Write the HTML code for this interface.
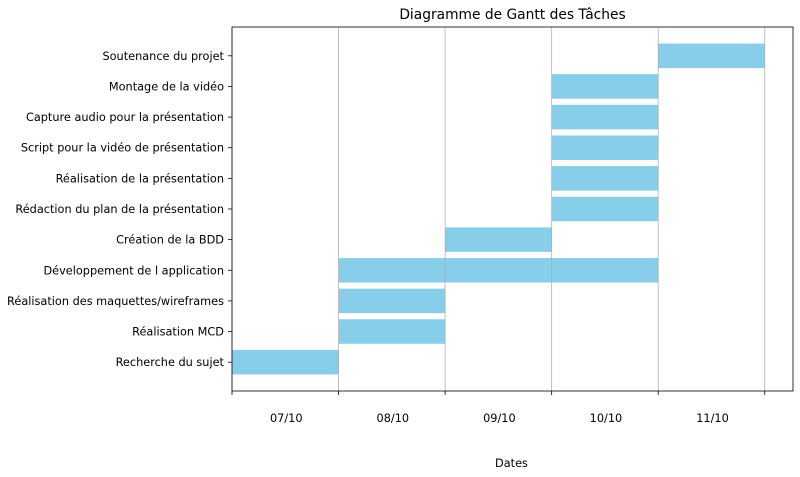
<!DOCTYPE html>
<html><head><meta charset="utf-8"><style>
body{margin:0;background:#fff;}
svg{display:block;font-family:"DejaVu Sans","Liberation Sans",sans-serif;}
</style></head><body>
<svg id="chart" width="800" height="477"></svg>
<script>
const tasks=["Recherche du sujet","Réalisation MCD","Réalisation des maquettes/wireframes","Développement de l application","Création de la BDD","Rédaction du plan de la présentation","Réalisation de la présentation","Script pour la vidéo de présentation","Capture audio pour la présentation","Montage de la vidéo","Soutenance du projet"];
const starts=[0,1,1,1,2,3,3,3,3,3,4];
const durations=[1,1,1,3,1,1,1,1,1,1,1];
const dateLabels=["07/10","08/10","09/10","10/10","11/10"];
const NS="http://www.w3.org/2000/svg";
const svg=document.getElementById('chart');
const L=232,R=793,T=27,B=391;
const xMin=0,xMax=5.265,yMin=-0.94,yMax=10.94;
const xs=v=>L+(v-xMin)/(xMax-xMin)*(R-L);
const ys=v=>B-(v-yMin)/(yMax-yMin)*(B-T);
function mk(tag,attrs,parent){const e=document.createElementNS(NS,tag);for(const k in attrs)e.setAttribute(k,attrs[k]);(parent||svg).appendChild(e);return e;}
// bars
tasks.forEach((name,i)=>{
  const yc=ys(i),h=0.8*(B-T)/(yMax-yMin);
  const r=mk('rect',{x:xs(starts[i]),y:yc-h/2,width:xs(starts[i]+durations[i])-xs(starts[i]),height:h,fill:'#87ceeb'});
  
  
  const tk=mk('line',{x1:L-4,x2:L,y1:yc,y2:yc,stroke:'#000','stroke-width':0.8});
  
  
  const t=mk('text',{x:L-8,y:yc+4,'font-size':11.3,'text-anchor':'end',fill:'#000'});
  t.textContent=name;
  
  
});
// grid
for(let i=0;i<=dateLabels.length;i++){
  const x=xs(i);
  const g=mk('line',{x1:x,x2:x,y1:T,y2:B,stroke:'#b0b0b0','stroke-width':0.8});
  
  
  const t=mk('line',{x1:x,x2:x,y1:B,y2:B+4,stroke:'#000','stroke-width':0.8});
  
  
}
dateLabels.forEach((d,i)=>{
  const t=mk('text',{x:xs(i+0.5)+1,y:422,'font-size':11.3,'text-anchor':'middle',fill:'#000'});
  t.textContent=d;
  
  
});
const f=mk('rect',{x:L,y:T,width:R-L,height:B-T,fill:'none',stroke:'#000','stroke-width':0.8});


const ti=mk('text',{x:(L+R)/2,y:19,'font-size':13.8,'text-anchor':'middle',fill:'#000'});
ti.textContent='Diagramme de Gantt des Tâches';


const xl=mk('text',{x:(L+R)/2-1,y:467,'font-size':11.3,'text-anchor':'middle',fill:'#000'});
xl.textContent='Dates';


</script>
</body></html>
